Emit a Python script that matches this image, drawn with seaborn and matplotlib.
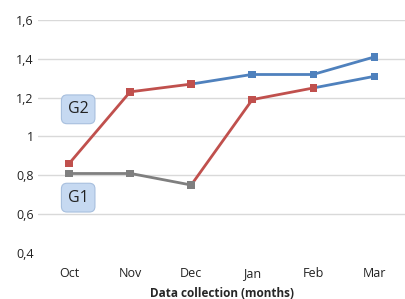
import numpy as np
import pandas as pd
import seaborn as sns
import matplotlib.pyplot as plt

# data
months = ["Oct", "Nov", "Dec", "Jan", "Feb", "Mar"]
g2 = [0.86, 1.23, 1.27, 1.32, 1.32, 1.41]
g1 = [0.81, 0.81, 0.75, 1.19, 1.25, 1.31]

# colour of each segment / marker (phase)
g2_seg = ["red", "red", "blue", "blue", "blue"]
g2_pts = ["red", "red", "red", "blue", "blue", "blue"]
g1_seg = ["gray", "gray", "red", "red", "blue"]
g1_pts = ["gray", "gray", "gray", "red", "red", "blue"]

yticks = [0.4, 0.6, 0.8, 1.0, 1.2, 1.4, 1.6]
ytick_labels = ["0,4", "0,6", "0,8", "1", "1,2", "1,4", "1,6"]

colors = {"red": "#C0504D", "blue": "#4F81BD", "gray": "#7F7F7F"}

sns.set_style("white")
plt.rcParams["font.family"] = ["Open Sans", "DejaVu Sans"]

fig = plt.figure(figsize=(4.05, 2.99), dpi=100)
ax = fig.add_axes([0.095, 0.154, 0.905, 0.779])

x = np.arange(len(months))

# draw blue series first so red/gray sit on top where they meet
for vals, seg, pts in [(g2, g2_seg, g2_pts), (g1, g1_seg, g1_pts)]:
    for i, c in enumerate(seg):
        df = pd.DataFrame({"x": x[i:i + 2], "y": vals[i:i + 2]})
        sns.lineplot(data=df, x="x", y="y", color=colors[c], linewidth=2.0, ax=ax)
    df = pd.DataFrame({"x": x, "y": vals, "c": pts})
    sns.scatterplot(data=df, x="x", y="y", hue="c", palette=colors, marker="s",
                    s=30, edgecolor="none", legend=False, ax=ax, zorder=3)

ax.set_xlim(-0.5, 5.5)
ax.set_ylim(0.4, 1.6)
ax.set_xticks(x)
ax.set_xticklabels(months)
ax.set_yticks(yticks)
ax.set_yticklabels(ytick_labels)
ax.tick_params(axis="both", length=0, labelsize=9, colors="#222222")
ax.tick_params(axis="x", pad=10)

ax.yaxis.grid(True, color="#d9d9d9", linewidth=1)
ax.set_axisbelow(True)
ax.get_ygridlines()[0].set_visible(False)
for s in ax.spines.values():
    s.set_visible(False)

ax.set_xlabel("Data collection (months)", fontsize=8.5, fontweight="bold", labelpad=5)
ax.set_ylabel("")

box = dict(boxstyle="round,pad=0.4,rounding_size=0.35", facecolor="#c6d9f1",
           edgecolor="#a7bfde", linewidth=0.8)
ax.text(0.15, 1.14, "G2", fontsize=11.5, ha="center", va="center", bbox=box, color="#222222")
ax.text(0.15, 0.685, "G1", fontsize=11.5, ha="center", va="center", bbox=box, color="#222222")

fig.savefig("out.png", dpi=100)
